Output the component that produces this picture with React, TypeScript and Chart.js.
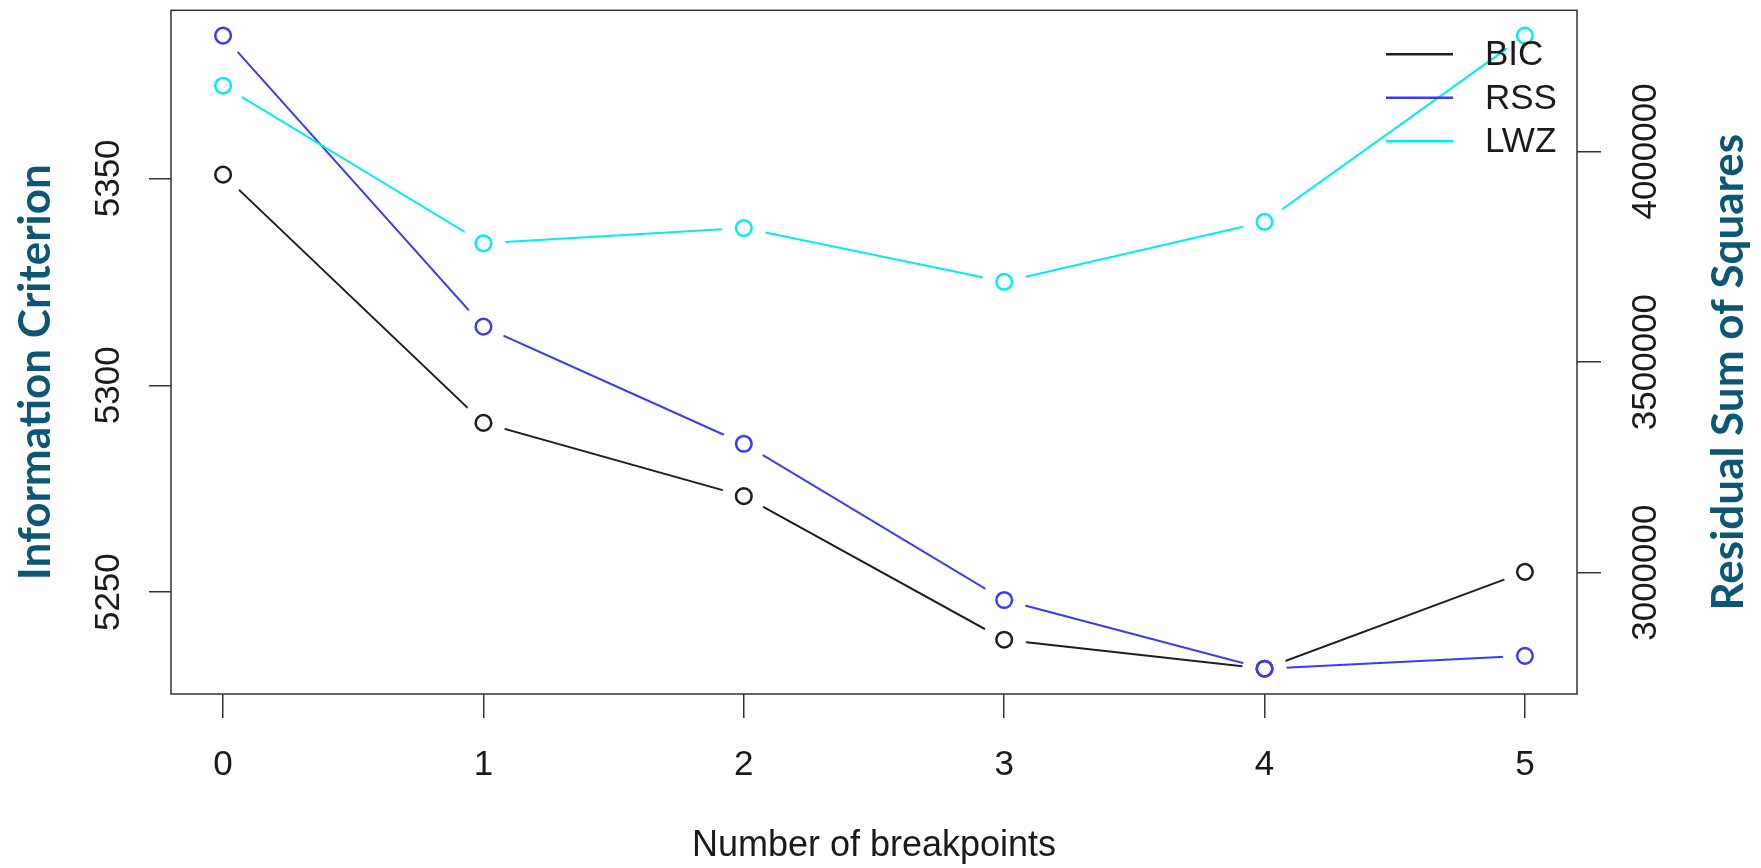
import React, { useEffect, useRef } from 'react';
import { Chart, registerables } from 'chart.js';

Chart.register(...registerables);

// ---- data ----
const breakpoints = [0, 1, 2, 3, 4, 5];
const bicValues = [5350.9, 5290.9, 5273.2, 5238.5, 5231.5, 5254.9];
const rssValues = [4275000, 3584000, 3306000, 2935000, 2772000, 2802500];
const lwzValues = [5372.4, 5334.3, 5338.0, 5325.0, 5339.5, 5384.5];

const seriesNames = ['BIC', 'RSS', 'LWZ'];
const seriesColors = ['#1e1e1e', '#3a3aff', '#00eeee'];

const xTickValues = [0, 1, 2, 3, 4, 5];
const icTickValues = [5250, 5300, 5350];
const rssTickValues = [3000000, 3500000, 4000000];

const xTitle = 'Number of breakpoints';
const leftTitle = 'Information Criterion';
const rightTitle = 'Residual Sum of Squares';

// R-style axis range: data range extended 4% each side
function padRange(values: number[]): [number, number] {
  const mn = Math.min(...values);
  const mx = Math.max(...values);
  const p = (mx - mn) * 0.04;
  return [mn - p, mx + p];
}

function makeHalo(): HTMLCanvasElement {
  const r = 22;
  const s = r * 2 + 2;
  const c = document.createElement('canvas');
  c.width = s;
  c.height = s;
  const g = c.getContext('2d')!;
  g.fillStyle = '#ffffff';
  g.beginPath();
  g.arc(s / 2, s / 2, r, 0, Math.PI * 2);
  g.fill();
  return c;
}

const TICK_FONT = { family: 'Liberation Sans', size: 35 };
const AXIS_COLOR = '#333333';

function zeroPad(s: any) {
  s.paddingTop = 0;
  s.paddingBottom = 0;
  s.paddingLeft = 0;
  s.paddingRight = 0;
}

export default function App() {
  const ref = useRef<HTMLCanvasElement | null>(null);

  useEffect(() => {
    if (!ref.current) return;
    const halo = makeHalo();
    const [xMin, xMax] = padRange(breakpoints);
    const [icMin, icMax] = padRange([...bicValues, ...lwzValues]);
    const [rMin, rMax] = padRange(rssValues);

    const seriesValues = [bicValues, rssValues, lwzValues];
    const axisIds = ['y', 'y2', 'y'];

    const datasets: any[] = [];
    seriesValues.forEach((vals, i) => {
      const pts = breakpoints.map((b, j) => ({ x: b, y: vals[j] }));
      datasets.push({
        label: seriesNames[i] + ' line',
        data: pts,
        yAxisID: axisIds[i],
        borderColor: seriesColors[i],
        borderWidth: 2,
        pointStyle: halo,
        pointRadius: 8,
        pointHoverRadius: 8,
        order: 10 - i,
        tension: 0,
      });
    });
    seriesValues.forEach((vals, i) => {
      const pts = breakpoints.map((b, j) => ({ x: b, y: vals[j] }));
      datasets.push({
        label: seriesNames[i],
        data: pts,
        yAxisID: axisIds[i],
        showLine: false,
        pointStyle: 'circle',
        pointRadius: 7.8,
        pointHoverRadius: 7.8,
        pointBorderWidth: 2.5,
        pointBorderColor: seriesColors[i],
        pointBackgroundColor: 'rgba(0,0,0,0)',
        borderColor: seriesColors[i],
        order: 3 - i,
      });
    });

    const decor = {
      id: 'decor',
      afterDraw(chart: any) {
        const { ctx, chartArea: a } = chart;
        ctx.save();
        // plot box
        ctx.strokeStyle = AXIS_COLOR;
        ctx.lineWidth = 1.5;
        ctx.strokeRect(a.left, a.top, a.right - a.left, a.bottom - a.top);

        // vertical titles (both read bottom-to-top)
        const cy = (a.top + a.bottom) / 2 + 20;
        ctx.fillStyle = '#0b5775';
        ctx.font = 'bold 44px Lato';
        ctx.textAlign = 'center';
        ctx.textBaseline = 'middle';
        ctx.save();
        ctx.translate(a.left - 135, cy);
        ctx.rotate(-Math.PI / 2);
        ctx.fillText(leftTitle, 0, 0);
        ctx.restore();
        ctx.save();
        ctx.translate(a.right + 152, cy);
        ctx.rotate(-Math.PI / 2);
        ctx.fillText(rightTitle, 0, 0);
        ctx.restore();

        // legend (lines only, no box)
        ctx.font = '35px "Liberation Sans"';
        ctx.textAlign = 'left';
        seriesNames.forEach((name, i) => {
          const y = a.top + 44 + i * 43.5;
          ctx.strokeStyle = seriesColors[i];
          ctx.lineWidth = 2.5;
          ctx.beginPath();
          ctx.moveTo(a.right - 191, y);
          ctx.lineTo(a.right - 124, y);
          ctx.stroke();
          ctx.fillStyle = '#1a1a1a';
          ctx.fillText(name, a.right - 92, y + 1.5);
        });
        ctx.restore();
      },
    };

    const chart = new Chart(ref.current, {
      type: 'line',
      data: { datasets },
      plugins: [decor],
      options: {
        responsive: false,
        animation: false,
        devicePixelRatio: 1,
        layout: { padding: { top: 8, left: 0, right: 0, bottom: 0 } },
        plugins: {
          legend: { display: false },
          tooltip: { enabled: false },
        },
        scales: {
          x: {
            type: 'linear',
            position: 'bottom',
            min: xMin,
            max: xMax,
            afterFit(s: any) { s.height = 174; zeroPad(s); },
            afterBuildTicks(s: any) { s.ticks = xTickValues.map((v) => ({ value: v })); },
            grid: { display: true, drawOnChartArea: false, drawTicks: true, tickLength: 24, color: AXIS_COLOR, lineWidth: 1.5 },
            border: { display: false },
            ticks: {
              font: TICK_FONT,
              color: '#1a1a1a',
              padding: 26,
              maxRotation: 0,
              autoSkip: false,
              callback: (v: any) => String(v),
            },
            title: {
              display: true,
              text: xTitle,
              font: { family: 'Liberation Sans', size: 36 },
              color: '#1a1a1a',
              padding: { top: 0, bottom: 0 },
            },
          },
          y: {
            type: 'linear',
            position: 'left',
            min: icMin,
            max: icMax,
            afterFit(s: any) { s.width = 171; zeroPad(s); },
            afterBuildTicks(s: any) { s.ticks = icTickValues.map((v) => ({ value: v })); },
            grid: { display: true, drawOnChartArea: false, drawTicks: true, tickLength: 22, color: AXIS_COLOR, lineWidth: 1.5 },
            border: { display: false },
            ticks: {
              font: TICK_FONT,
              color: '#1a1a1a',
              padding: 1,
              minRotation: 90,
              maxRotation: 90,
              crossAlign: 'center',
              autoSkip: false,
              callback: (v: any) => String(v),
            },
          },
          y2: {
            type: 'linear',
            position: 'right',
            min: rMin,
            max: rMax,
            afterFit(s: any) { s.width = 184; zeroPad(s); },
            afterBuildTicks(s: any) { s.ticks = rssTickValues.map((v) => ({ value: v })); },
            grid: { display: true, drawOnChartArea: false, drawTicks: true, tickLength: 24, color: AXIS_COLOR, lineWidth: 1.5 },
            border: { display: false },
            ticks: {
              font: TICK_FONT,
              color: '#1a1a1a',
              padding: -23,
              minRotation: 90,
              maxRotation: 90,
              crossAlign: 'center',
              autoSkip: false,
              callback: (v: any) => String(v),
            },
          },
        },
      } as any,
    });
    return () => chart.destroy();
  }, []);

  return (
    <div style={{ position: 'fixed', left: 0, top: 0, width: 1761, height: 868, background: '#fff' }}>
      <canvas ref={ref} width={1761} height={868} style={{ display: 'block', width: 1761, height: 868 }} />
    </div>
  );
}
